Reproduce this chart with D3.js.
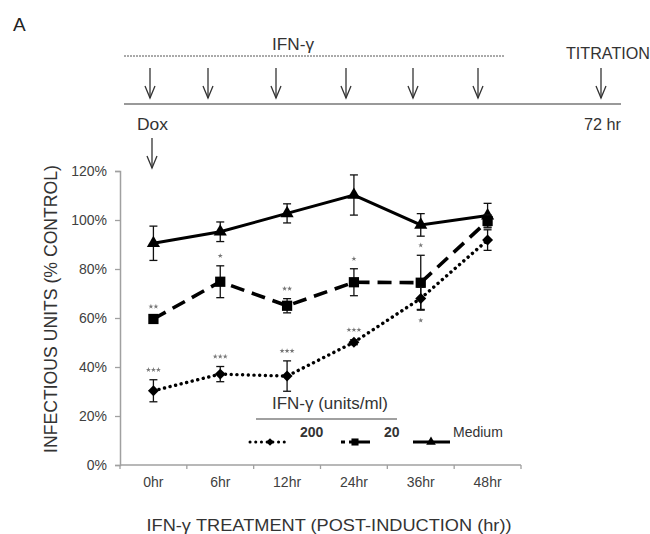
<!DOCTYPE html>
<html>
<head>
<meta charset="utf-8">
<script src="https://cdn.jsdelivr.net/npm/d3@7"></script>
<style>
  body { margin: 0; background: #fff; }
  svg { display: block; font-family: "Liberation Sans", Arial, sans-serif; }
</style>
</head>
<body>
<div id="chart"></div>
<script>
// chart values
var categories = ['0hr', '6hr', '12hr', '24hr', '36hr', '48hr'];
var yTicks = [0, 20, 40, 60, 80, 100, 120];

var mediumMean = [90.5, 95.2, 102.7, 110.2, 98.0, 101.8];
var mediumErr = [7.0, 4.0, 3.9, 8.2, 4.6, 5.0];

var dose20Mean = [59.6, 74.8, 65.0, 74.6, 74.4, 99.6];
var dose20Err = [1.0, 6.5, 2.9, 5.5, 11.2, 2.5];

var dose200Mean = [30.3, 37.1, 36.3, 50.1, 68.0, 91.8];
var dose200Err = [4.5, 3.1, 6.2, 1.0, 4.5, 4.2];

// significance stars (count per time point), and where they sit
var stars20 = [2, 1, 2, 1, 1, 0];
var stars200 = [3, 3, 3, 3, 1, 0];
var stars200Side = ['above', 'above', 'above', 'above', 'below', 'above'];

var legendLabels = ['200', '20', 'Medium'];

// schematic timeline (top of figure)
var treatArrowX = [150, 208, 276, 346, 413, 478];

var width = 650, height = 534;

var svg = d3.select('#chart').append('svg')
  .attr('width', width)
  .attr('height', height);

// ---- panel letter + timeline schematic ----
svg.append('text').attr('x', 13).attr('y', 31)
  .attr('font-size', 19).attr('fill', '#222').text('A');

svg.append('text').attr('x', 293).attr('y', 50)
  .attr('text-anchor', 'middle').attr('font-size', 16).attr('fill', '#333')
  .attr('textLength', 42).attr('lengthAdjust', 'spacingAndGlyphs')
  .text('IFN-γ');

svg.append('line').attr('x1', 124).attr('x2', 504).attr('y1', 56).attr('y2', 56)
  .attr('stroke', '#555').attr('stroke-width', 1).attr('stroke-dasharray', '2,1');

svg.append('line').attr('x1', 124).attr('x2', 621).attr('y1', 104).attr('y2', 104)
  .attr('stroke', '#777').attr('stroke-width', 1.6);

function arrow(x, y1, y2) {
  svg.append('line').attr('x1', x).attr('x2', x).attr('y1', y1).attr('y2', y2)
    .attr('stroke', '#333').attr('stroke-width', 1.3);
  svg.append('path')
    .attr('d', 'M' + (x - 5) + ',' + (y2 - 12) + 'L' + x + ',' + y2 + 'L' + (x + 5) + ',' + (y2 - 12))
    .attr('fill', 'none').attr('stroke', '#333').attr('stroke-width', 1.3);
}
treatArrowX.forEach(function(x) { arrow(x, 68, 98); });
arrow(601, 68, 98);
arrow(152, 138, 168);

svg.append('text').attr('x', 566).attr('y', 59).attr('font-size', 16).attr('fill', '#333')
  .attr('textLength', 84).attr('lengthAdjust', 'spacingAndGlyphs').text('TITRATION');
svg.append('text').attr('x', 137).attr('y', 130).attr('font-size', 16).attr('fill', '#333')
  .attr('textLength', 31).attr('lengthAdjust', 'spacingAndGlyphs').text('Dox');
svg.append('text').attr('x', 584).attr('y', 130).attr('font-size', 16).attr('fill', '#333')
  .attr('textLength', 37).attr('lengthAdjust', 'spacingAndGlyphs').text('72 hr');

// ---- chart ----
var x = d3.scaleBand().domain(categories).range([120, 521]);
var y = d3.scaleLinear().domain([0, 120]).range([465, 171]);
var cx = function(i) { return x(categories[i]) + x.bandwidth() / 2; };

// y axis
var yAxis = svg.append('g').attr('transform', 'translate(120,0)')
  .call(d3.axisLeft(y).tickValues(yTicks).tickSize(5).tickPadding(8)
    .tickFormat(function(d) { return d + '%'; }));
yAxis.select('.domain').attr('stroke', '#a0a0a0').attr('stroke-width', 1.5);
yAxis.selectAll('.tick line').attr('stroke', '#a0a0a0').attr('stroke-width', 1.3);
yAxis.selectAll('.tick text').attr('font-size', 14).attr('fill', '#404040')
  .attr('font-family', '"Liberation Sans", Arial, sans-serif');

// x axis: ticks at band boundaries
var xAxis = svg.append('g').attr('transform', 'translate(0,465)');
xAxis.append('line').attr('x1', 120).attr('x2', 521)
  .attr('stroke', '#a0a0a0').attr('stroke-width', 1.5);
var bounds = categories.map(function(c) { return x(c); }).concat([x.range()[1]]);
xAxis.selectAll('line.tk').data(bounds).enter().append('line').attr('class', 'tk')
  .attr('x1', function(d) { return d; }).attr('x2', function(d) { return d; })
  .attr('y1', 0).attr('y2', 4).attr('stroke', '#a0a0a0').attr('stroke-width', 1.3);
xAxis.selectAll('text').data(categories).enter().append('text')
  .attr('x', function(d) { return x(d) + x.bandwidth() / 2; })
  .attr('y', 22).attr('text-anchor', 'middle')
  .attr('font-size', 14).attr('fill', '#404040').text(function(d) { return d; });

// axis titles
svg.append('text')
  .attr('transform', 'translate(57,309) rotate(-90)')
  .attr('text-anchor', 'middle').attr('font-size', 18).attr('fill', '#333')
  .attr('textLength', 288).attr('lengthAdjust', 'spacingAndGlyphs')
  .text('INFECTIOUS UNITS (% CONTROL)');

svg.append('text').attr('x', 329).attr('y', 531)
  .attr('text-anchor', 'middle').attr('font-size', 17).attr('fill', '#333')
  .attr('textLength', 365).attr('lengthAdjust', 'spacingAndGlyphs')
  .text('IFN-γ TREATMENT  (POST-INDUCTION  (hr))');

// marker shapes
var diamondType = {
  draw: function(ctx, size) {
    var r = Math.sqrt(size / 2);
    ctx.moveTo(0, -r); ctx.lineTo(r, 0); ctx.lineTo(0, r); ctx.lineTo(-r, 0); ctx.closePath();
  }
};

var series = [
  { mean: mediumMean, err: mediumErr, dash: null, width: 3, cap: 'butt',
    symbol: d3.symbolTriangle, size: 75 },
  { mean: dose20Mean, err: dose20Err, dash: '14,8', width: 3.6, cap: 'butt',
    symbol: d3.symbolSquare, size: 105 },
  { mean: dose200Mean, err: dose200Err, dash: '0.1,5.6', width: 3.4, cap: 'round',
    symbol: diamondType, size: 60 }
];

var line = d3.line().x(function(d, i) { return cx(i); }).y(function(d) { return y(d); });

series.forEach(function(s) {
  var g = svg.append('g');
  // error bars
  s.mean.forEach(function(m, i) {
    var top = y(m + s.err[i]), bot = y(m - s.err[i]), xc = cx(i);
    g.append('line').attr('x1', xc).attr('x2', xc).attr('y1', top).attr('y2', bot)
      .attr('stroke', '#111').attr('stroke-width', 1.3);
    [top, bot].forEach(function(yy) {
      g.append('line').attr('x1', xc - 4).attr('x2', xc + 4).attr('y1', yy).attr('y2', yy)
        .attr('stroke', '#111').attr('stroke-width', 1.3);
    });
  });
  g.append('path').datum(s.mean).attr('d', line)
    .attr('fill', 'none').attr('stroke', '#000').attr('stroke-width', s.width)
    .attr('stroke-linecap', s.cap)
    .attr('stroke-dasharray', s.dash);
  g.selectAll('path.mk').data(s.mean).enter().append('path').attr('class', 'mk')
    .attr('d', d3.symbol().type(s.symbol).size(s.size))
    .attr('transform', function(d, i) { return 'translate(' + cx(i) + ',' + y(d) + ')'; })
    .attr('fill', '#000');
});

// significance stars
var starSym = d3.symbol().type(d3.symbolStar).size(8);
function drawStars(n, xc, yc) {
  for (var k = 0; k < n; k++) {
    svg.append('path').attr('d', starSym)
      .attr('transform', 'translate(' + (xc + (k - (n - 1) / 2) * 5) + ',' + yc + ')')
      .attr('fill', '#777');
  }
}
stars20.forEach(function(n, i) {
  if (n) drawStars(n, cx(i), y(dose20Mean[i] + dose20Err[i]) - 10);
});
stars200.forEach(function(n, i) {
  if (!n) return;
  var yc = stars200Side[i] === 'above'
    ? y(dose200Mean[i] + dose200Err[i]) - 10
    : y(dose200Mean[i] - dose200Err[i]) + 11;
  drawStars(n, cx(i), yc);
});

// ---- legend ----
var lg = svg.append('g');
lg.append('text').attr('x', 330).attr('y', 409).attr('text-anchor', 'middle')
  .attr('font-size', 16).attr('fill', '#333')
  .attr('textLength', 116).attr('lengthAdjust', 'spacingAndGlyphs')
  .text('IFN-γ  (units/ml)');
lg.append('line').attr('x1', 256).attr('x2', 397).attr('y1', 419).attr('y2', 419)
  .attr('stroke', '#808080').attr('stroke-width', 1.5);

var legendItems = [
  { x1: 250, x2: 286, mx: 270, lx: 300, s: series[2], msize: 30, bold: true },
  { x1: 341, x2: 370, mx: 355, lx: 384, s: series[1], msize: 50, bold: true },
  { x1: 413, x2: 450, mx: 431, lx: 453, s: series[0], msize: 40, bold: false }
];
legendItems.forEach(function(it, i) {
  lg.append('line').attr('x1', it.x1).attr('x2', it.x2).attr('y1', 442).attr('y2', 442)
    .attr('stroke', '#000').attr('stroke-width', i === 2 ? 3 : 3)
    .attr('stroke-linecap', it.s.cap)
    .attr('stroke-dasharray', i === 1 ? '4,4,30' : it.s.dash);
  lg.append('path').attr('d', d3.symbol().type(it.s.symbol).size(it.msize))
    .attr('transform', 'translate(' + it.mx + ',442)').attr('fill', '#000');
  lg.append('text').attr('x', it.lx).attr('y', 437)
    .attr('font-size', 14).attr('font-weight', it.bold ? 'bold' : 'normal')
    .attr('fill', '#333').text(legendLabels[i]);
});
</script>
</body>
</html>
